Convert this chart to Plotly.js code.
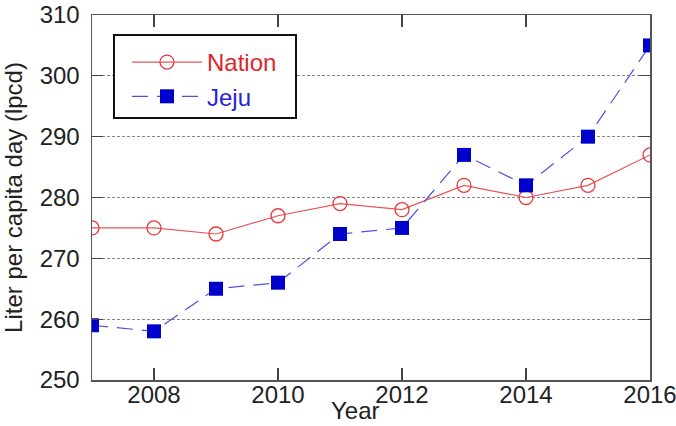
<!DOCTYPE html>
<html>
<head>
<meta charset="utf-8">
<script src="https://cdn.plot.ly/plotly-3.0.1.min.js"></script>
<style>html,body{margin:0;padding:0;background:#fff;}#chart{width:676px;height:426px;}</style>
</head>
<body>
<div id="chart"></div>
<script>
const years = [2007, 2008, 2009, 2010, 2011, 2012, 2013, 2014, 2015, 2016];
const nation = [275, 275, 274, 277, 279, 278, 282, 280, 282, 287];
const jeju = [259, 258, 265, 266, 274, 275, 287, 282, 290, 305];
const seriesNames = ['Nation', 'Jeju'];
const xTitle = 'Year';
const yTitle = 'Liter per capita day (lpcd)';

const font = 'Liberation Sans, Arial, sans-serif';
const traces = [
  {
    x: years, y: nation, type: 'scatter', mode: 'lines+markers',
    name: '<span style="color:#e0262a">' + seriesNames[0] + '</span>',
    line: {color: '#e85458', width: 1.2},
    marker: {symbol: 'circle-open', size: 14, color: '#e8383c', line: {width: 1.3, color: '#e8383c'}}
  },
  {
    x: years, y: jeju, type: 'scatter', mode: 'lines+markers',
    name: '<span style="color:#2424d4">' + seriesNames[1] + '</span>',
    line: {color: '#5050e0', width: 1.2, dash: '16px,9px'},
    marker: {symbol: 'square', size: 14, color: '#0000cc'}
  }
];
const layout = {
  width: 676, height: 426,
  margin: {l: 92, r: 26, t: 15, b: 46},
  paper_bgcolor: '#fff', plot_bgcolor: '#fff',
  font: {family: font, size: 24, color: '#222'},
  showlegend: true,
  legend: {
    x: 0.0627, y: 0.9315, xanchor: 'left', yanchor: 'top',
    bgcolor: 'rgba(0,0,0,0)', borderwidth: 0,
    font: {family: font, size: 24},
    itemwidth: 70, tracegroupgap: 0
  },
  shapes: [{
    type: 'rect', xref: 'paper', yref: 'paper',
    x0: 0.0394, x1: 0.3656, y0: 0.718, y1: 0.945,
    fillcolor: '#fff', line: {color: '#111', width: 2}, layer: 'above'
  }],
  annotations: [{
    text: xTitle, xref: 'paper', yref: 'paper', x: 0.473, y: -0.126,
    xanchor: 'center', yanchor: 'bottom', showarrow: false,
    font: {family: font, size: 24, color: '#222'}
  }],
  xaxis: {
    range: [2007, 2016], dtick: 2, tick0: 2008,
    ticks: 'inside', ticklen: 12, tickcolor: '#444', tickwidth: 1.3,
    showline: true, linecolor: '#555', linewidth: 1.5, mirror: 'ticks',
    showgrid: false, zeroline: false,
    tickfont: {family: font, size: 24, color: '#222'},
    ticklabelstandoff: -7, ticklabeloverflow: 'allow',
    automargin: false
  },
  yaxis: {
    range: [250, 310], dtick: 10,
    ticks: 'inside', ticklen: 11, tickcolor: '#444', tickwidth: 1.3,
    showline: true, linecolor: '#555', linewidth: 1.5, mirror: 'ticks',
    showgrid: true, gridcolor: '#888', gridwidth: 1, griddash: '3px,2px',
    zeroline: false,
    tickfont: {family: font, size: 24, color: '#222'},
    ticklabelstandoff: 6, ticklabeloverflow: 'allow',
    title: {text: yTitle, font: {family: font, size: 24, color: '#222'}, standoff: 10},
    automargin: false
  }
};
Plotly.newPlot('chart', traces, layout, {displayModeBar: false, staticPlot: true});
</script>
</body>
</html>
